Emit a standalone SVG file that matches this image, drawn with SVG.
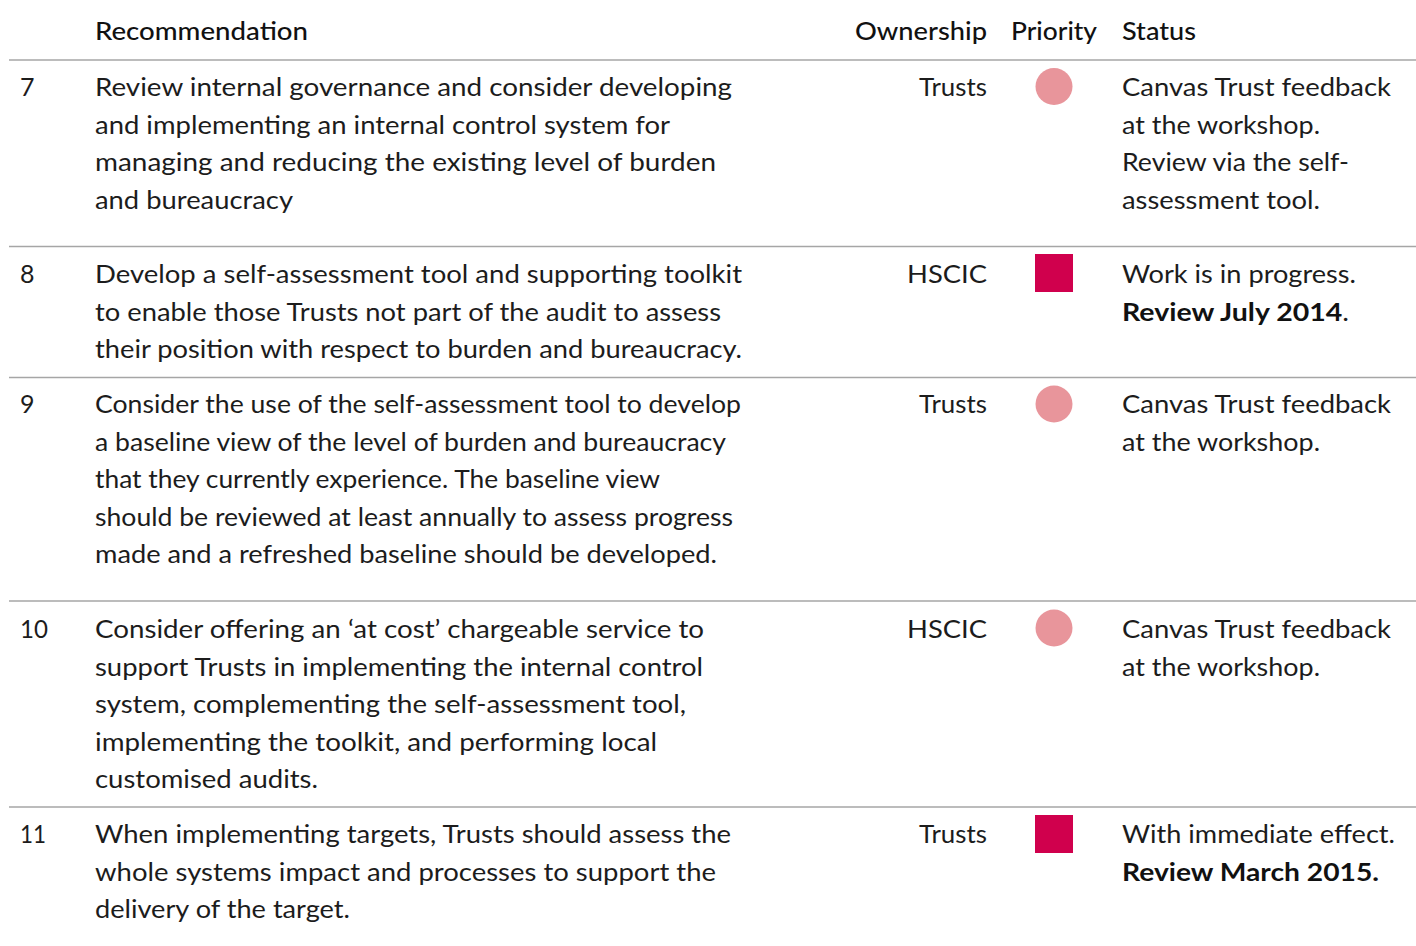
<svg xmlns="http://www.w3.org/2000/svg" width="1416" height="946" viewBox="0 0 1416 946">
<style>
text{font-family:Lato,"Liberation Sans",sans-serif;font-size:25px;fill:#1c1c1c;font-weight:400}
.h{font-weight:500;fill:#111}
.b{font-weight:700;fill:#111}
.rule{stroke:#a6a6a6;stroke-width:1.6}
.low{fill:#E8959B}
.high{fill:#D0004D}
</style>
<rect width="1416" height="946" fill="#fff"/>
<g id="header">
<text class="h" x="95" y="39.5" textLength="213" lengthAdjust="spacingAndGlyphs">Recommendation</text>
<text class="h" x="855" y="39.5" textLength="132" lengthAdjust="spacingAndGlyphs">Ownership</text>
<text class="h" x="1011" y="39.5" textLength="86" lengthAdjust="spacingAndGlyphs">Priority</text>
<text class="h" x="1122" y="39.5" textLength="74" lengthAdjust="spacingAndGlyphs">Status</text>
</g>
<g id="connectors">
<line class="rule" x1="9" y1="60" x2="1416" y2="60"/>
<line class="rule" x1="9" y1="246.5" x2="1416" y2="246.5"/>
<line class="rule" x1="9" y1="377.5" x2="1416" y2="377.5"/>
<line class="rule" x1="9" y1="601" x2="1416" y2="601"/>
<line class="rule" x1="9" y1="807" x2="1416" y2="807"/>
</g>
<g id="row7">
<text x="20" y="96">7</text>
<text x="95" y="96" textLength="637" lengthAdjust="spacingAndGlyphs">Review internal governance and consider developing</text>
<text x="95" y="133.5" textLength="575" lengthAdjust="spacingAndGlyphs">and implementing an internal control system for</text>
<text x="95" y="171" textLength="621" lengthAdjust="spacingAndGlyphs">managing and reducing the existing level of burden</text>
<text x="95" y="208.5" textLength="198" lengthAdjust="spacingAndGlyphs">and bureaucracy</text>
<text x="919" y="96" textLength="68" lengthAdjust="spacingAndGlyphs">Trusts</text>
<circle class="low" cx="1054" cy="86.5" r="18.5"/>
<text x="1122" y="96" textLength="269" lengthAdjust="spacingAndGlyphs">Canvas Trust feedback</text>
<text x="1122" y="133.5" textLength="198" lengthAdjust="spacingAndGlyphs">at the workshop.</text>
<text x="1122" y="171" textLength="227" lengthAdjust="spacingAndGlyphs">Review via the self-</text>
<text x="1122" y="208.5" textLength="198" lengthAdjust="spacingAndGlyphs">assessment tool.</text>
</g>
<g id="row8">
<text x="20" y="283">8</text>
<text x="95" y="283" textLength="647" lengthAdjust="spacingAndGlyphs">Develop a self-assessment tool and supporting toolkit</text>
<text x="95" y="320.5" textLength="626" lengthAdjust="spacingAndGlyphs">to enable those Trusts not part of the audit to assess</text>
<text x="95" y="358" textLength="647" lengthAdjust="spacingAndGlyphs">their position with respect to burden and bureaucracy.</text>
<text x="907" y="283" textLength="80" lengthAdjust="spacingAndGlyphs">HSCIC</text>
<rect class="high" x="1035" y="254" width="38" height="38"/>
<text x="1122" y="283" textLength="234" lengthAdjust="spacingAndGlyphs">Work is in progress.</text>
<text x="1122" y="320.5" textLength="227" lengthAdjust="spacingAndGlyphs"><tspan class="b">Review July 2014</tspan>.</text>
</g>
<g id="row9">
<text x="20" y="413">9</text>
<text x="95" y="413" textLength="646" lengthAdjust="spacingAndGlyphs">Consider the use of the self-assessment tool to develop</text>
<text x="95" y="450.5" textLength="631" lengthAdjust="spacingAndGlyphs">a baseline view of the level of burden and bureaucracy</text>
<text x="95" y="488" textLength="565" lengthAdjust="spacingAndGlyphs">that they currently experience. The baseline view</text>
<text x="95" y="525.5" textLength="638" lengthAdjust="spacingAndGlyphs">should be reviewed at least annually to assess progress</text>
<text x="95" y="563" textLength="622" lengthAdjust="spacingAndGlyphs">made and a refreshed baseline should be developed.</text>
<text x="919" y="413" textLength="68" lengthAdjust="spacingAndGlyphs">Trusts</text>
<circle class="low" cx="1054" cy="404" r="18.5"/>
<text x="1122" y="413" textLength="269" lengthAdjust="spacingAndGlyphs">Canvas Trust feedback</text>
<text x="1122" y="450.5" textLength="198" lengthAdjust="spacingAndGlyphs">at the workshop.</text>
</g>
<g id="row10">
<text x="20" y="638" textLength="28" lengthAdjust="spacingAndGlyphs">10</text>
<text x="95" y="638" textLength="609" lengthAdjust="spacingAndGlyphs">Consider offering an ‘at cost’ chargeable service to</text>
<text x="95" y="675.5" textLength="608" lengthAdjust="spacingAndGlyphs">support Trusts in implementing the internal control</text>
<text x="95" y="713" textLength="591" lengthAdjust="spacingAndGlyphs">system, complementing the self-assessment tool,</text>
<text x="95" y="750.5" textLength="562" lengthAdjust="spacingAndGlyphs">implementing the toolkit, and performing local</text>
<text x="95" y="788" textLength="223" lengthAdjust="spacingAndGlyphs">customised audits.</text>
<text x="907" y="638" textLength="80" lengthAdjust="spacingAndGlyphs">HSCIC</text>
<circle class="low" cx="1054" cy="628" r="18.5"/>
<text x="1122" y="638" textLength="269" lengthAdjust="spacingAndGlyphs">Canvas Trust feedback</text>
<text x="1122" y="675.5" textLength="198" lengthAdjust="spacingAndGlyphs">at the workshop.</text>
</g>
<g id="row11">
<text x="20" y="843" textLength="26" lengthAdjust="spacingAndGlyphs">11</text>
<text x="95" y="843" textLength="636" lengthAdjust="spacingAndGlyphs">When implementing targets, Trusts should assess the</text>
<text x="95" y="880.5" textLength="621" lengthAdjust="spacingAndGlyphs">whole systems impact and processes to support the</text>
<text x="95" y="918" textLength="255" lengthAdjust="spacingAndGlyphs">delivery of the target.</text>
<text x="919" y="843" textLength="68" lengthAdjust="spacingAndGlyphs">Trusts</text>
<rect class="high" x="1035" y="815" width="38" height="38"/>
<text x="1122" y="843" textLength="273" lengthAdjust="spacingAndGlyphs">With immediate effect.</text>
<text class="b" x="1122" y="880.5" textLength="257" lengthAdjust="spacingAndGlyphs">Review March 2015.</text>
</g>
</svg>
